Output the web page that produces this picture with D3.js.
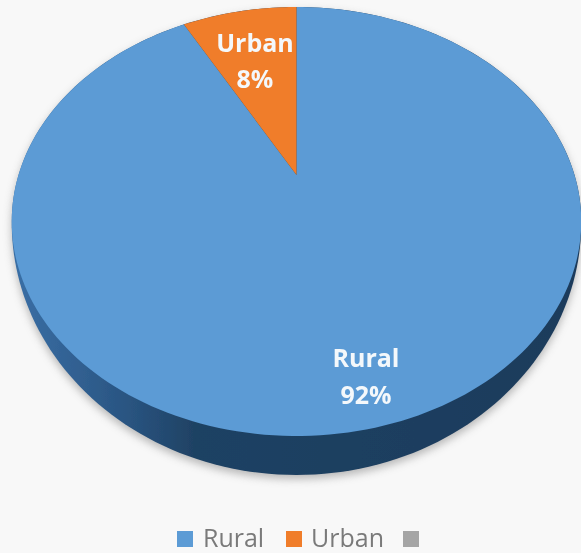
<!DOCTYPE html>
<html>
<head>
<meta charset="utf-8">
<script src="https://cdn.jsdelivr.net/npm/d3@7"></script>
<style>
  html, body { margin: 0; padding: 0; background: #f8f8f8; }
  svg { display: block; }
  text { font-family: "Open Sans", "Noto Sans", sans-serif; }
</style>
</head>
<body>
<div id="chart"></div>
<script>
var categories = ["Rural", "Urban"];
var values = [92, 8];
var legendLabels = ["Rural", "Urban", ""];
var colors = ["#5b9bd5", "#f07d2a", "#a5a5a5"];

var w = 581, h = 553;

// perspective of the tilted pie, a circle seen from the front edge
var cx = 296.5, cy = 175, b = 278, a = 204.4, k = 0.2168;
// the wall hangs below the widest line of the face
var wideY = 213, wallStretch = 1.175;

function project(angle) {
    var u = Math.sin(angle), v = Math.cos(angle);
    return [cx + b * u / (1 + k * v), cy - a * v / (1 + k * v)];
}

var svg = d3.select("#chart").append("svg")
    .attr("width", w)
    .attr("height", h);

var defs = svg.append("defs");
defs.append("filter").attr("id", "shadow")
    .attr("x", "-10%").attr("y", "-10%").attr("width", "120%").attr("height", "120%")
    .append("feGaussianBlur").attr("stdDeviation", 4);
defs.append("filter").attr("id", "soft")
    .append("feGaussianBlur").attr("stdDeviation", 0.7);
defs.append("filter").attr("id", "softText")
    .append("feGaussianBlur").attr("stdDeviation", 0.5);

var grad = defs.append("linearGradient").attr("id", "side");
grad.append("stop").attr("offset", "0%").attr("stop-color", "#3a6fa6");
grad.append("stop").attr("offset", "20%").attr("stop-color", "#2a5582");
grad.append("stop").attr("offset", "32%").attr("stop-color", "#1f4264");
grad.append("stop").attr("offset", "100%").attr("stop-color", "#1c3b5b");

var line = d3.line().curve(d3.curveLinearClosed);

// slices start at twelve o'clock, urban runs back to the left
var urbanAngle = 2 * Math.PI * values[1] / d3.sum(values);
var slices = d3.pie().sort(null)
    .startAngle(-urbanAngle)
    .endAngle(2 * Math.PI - urbanAngle)([values[1], values[0]]);
var urban = slices[0], rural = slices[1];

function outline(s, steps) {
    return d3.range(steps + 1).map(function (i) {
        return project(s.startAngle + (s.endAngle - s.startAngle) * i / steps);
    });
}

var rim = outline({ startAngle: 0, endAngle: 2 * Math.PI }, 240);
var lowerRim = rim.map(function (p) {
    return [p[0], p[1] <= wideY ? p[1] : wideY + (p[1] - wideY) * wallStretch];
});

svg.append("path")
    .attr("d", line(lowerRim.map(function (p) { return [p[0], p[1] + 4]; })))
    .attr("fill", "#9a9a9a")
    .attr("opacity", 0.7)
    .attr("filter", "url(#shadow)");

var pie3d = svg.append("g").attr("filter", "url(#soft)");

pie3d.append("path")
    .attr("d", line(lowerRim))
    .attr("fill", "url(#side)");

pie3d.append("path")
    .attr("d", line(outline(rural, 220).concat([[cx, cy]])))
    .attr("fill", colors[0]);

pie3d.append("path")
    .attr("d", line(outline(urban, 30).concat([[cx, cy]])))
    .attr("fill", colors[1]);

// data labels
var labels = [
    { x: 366, y: 367, gap: 37, name: categories[0], value: values[0] },
    { x: 255, y: 52, gap: 36, name: categories[1], value: values[1] }
];
labels.forEach(function (d) {
    var t = svg.append("text")
        .attr("text-anchor", "middle")
        .attr("font-size", 25)
        .attr("font-weight", 700)
        .attr("fill", "#f4f8fb")
        .attr("filter", "url(#softText)");
    t.append("tspan").attr("x", d.x).attr("y", d.y).text(d.name);
    t.append("tspan").attr("x", d.x).attr("y", d.y + d.gap).text(d.value + "%");
});

// legend
var legendX = [177, 286, 403];
var legend = svg.selectAll(".legend").data(legendLabels).enter().append("g")
    .attr("class", "legend");
legend.append("rect")
    .attr("x", function (d, i) { return legendX[i]; })
    .attr("y", 531)
    .attr("width", 16)
    .attr("height", 16)
    .attr("fill", function (d, i) { return colors[i]; })
    .attr("filter", "url(#softText)");
legend.append("text")
    .attr("x", function (d, i) { return legendX[i] + (i == 0 ? 26 : 25); })
    .attr("y", 547)
    .attr("font-size", 25)
    .attr("fill", "#7a7a7a")
    .attr("filter", "url(#softText)")
    .text(function (d) { return d; });
</script>
</body>
</html>
